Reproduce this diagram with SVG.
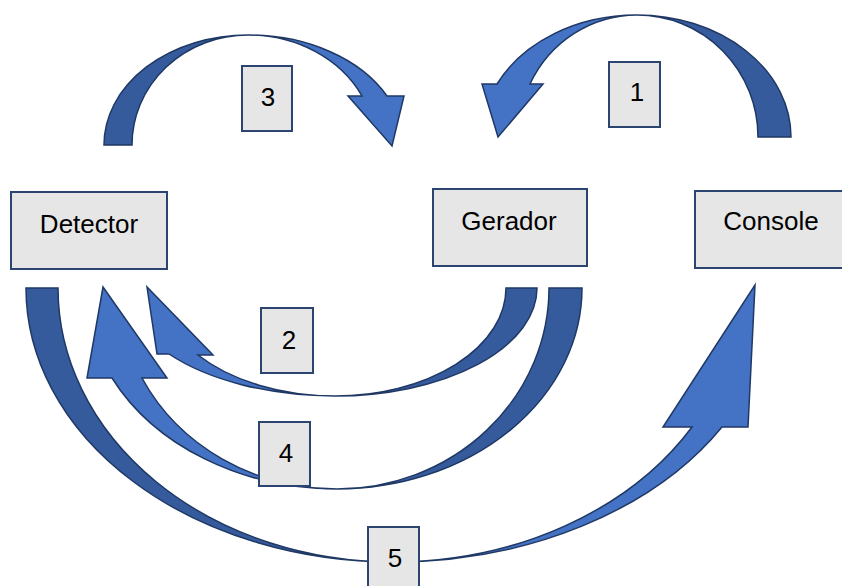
<svg xmlns="http://www.w3.org/2000/svg" width="842" height="586" viewBox="0 0 842 586">
<style>
.box{fill:#E6E6E6;stroke:#2B4470;stroke-width:2}
.lbl{fill:#E6E6E6;stroke:#2B4470;stroke-width:2}
.t{font-family:"Liberation Sans",Arial,sans-serif;font-size:26px;fill:#000;text-anchor:middle}
.dk{fill:#365B9D;stroke:#1F3864;stroke-width:1.5;stroke-linejoin:miter}
.lt{fill:#4472C4;stroke:#1F3864;stroke-width:1.5;stroke-linejoin:miter}
</style>
<rect width="842" height="586" fill="#fff"/>
<g id="connectors">
  <g id="arrow3">
    <path class="dk" d="M104,145 A144,110 0 0 1 248,35 A116,110 0 0 0 132,145 Z"/>
    <path class="lt" d="M248,35 A155,110 0 0 1 387,96 L404,96 L392,146 L348,96 L362,96 A127,110 0 0 0 248,35 Z"/>
  </g>
  <g id="arrow1">
    <path class="dk" d="M791,137 A154,122 0 0 0 637,15 A121,122 0 0 1 758,137 Z"/>
    <path class="lt" d="M637,15 A155,122 0 0 0 497,84 L482,84 L498,137 L543,84 L530,84 A119,122 0 0 1 637,15 Z"/>
  </g>
  <g id="arrow2">
    <path class="dk" d="M537,288 A202,108 0 0 1 335,396 A171,108 0 0 0 506,288 Z"/>
    <path class="lt" d="M335,396 A210,108 0 0 1 169,354 L157,354 L147,287 L213,355 L198,355 A175,108 0 0 0 335,396 Z"/>
  </g>
  <g id="arrow4">
    <path class="dk" d="M582,288 A245,201 0 0 1 337,489 A212,201 0 0 0 549,288 Z"/>
    <path class="lt" d="M337,489 A252,201 0 0 1 112,378 L87,378 L103,287 L167,378 L142,378 A218,201 0 0 0 337,489 Z"/>
  </g>
  <g id="arrow5">
    <path class="dk" d="M26,288 A367,274 0 0 0 393,562 A335,274 0 0 1 58,288 Z"/>
    <path class="lt" d="M393,562 A382,274 0 0 0 722,427 L748,427 L755,285 L663,427 L692,427 A347,274 0 0 1 393,562 Z"/>
  </g>
</g>
<g id="detector">
  <rect class="box" x="11" y="192" width="156" height="77"/>
  <text class="t" x="89" y="233">Detector</text>
</g>
<g id="gerador">
  <rect class="box" x="433" y="189" width="154" height="77"/>
  <text class="t" x="509" y="230">Gerador</text>
</g>
<g id="console">
  <rect class="box" x="695" y="191" width="160" height="77"/>
  <text class="t" x="771" y="230">Console</text>
</g>
<g id="label3">
  <rect class="lbl" x="242" y="66" width="50" height="65"/>
  <text class="t" x="268" y="106">3</text>
</g>
<g id="label1">
  <rect class="lbl" x="609" y="62" width="51" height="65"/>
  <text class="t" x="637" y="101">1</text>
</g>
<g id="label2">
  <rect class="lbl" x="261" y="308" width="52" height="65"/>
  <text class="t" x="289" y="349">2</text>
</g>
<g id="label4">
  <rect class="lbl" x="259" y="422" width="51" height="64"/>
  <text class="t" x="286" y="462">4</text>
</g>
<g id="label5">
  <rect class="lbl" x="368" y="527" width="51" height="70"/>
  <text class="t" x="395" y="567">5</text>
</g>
</svg>
